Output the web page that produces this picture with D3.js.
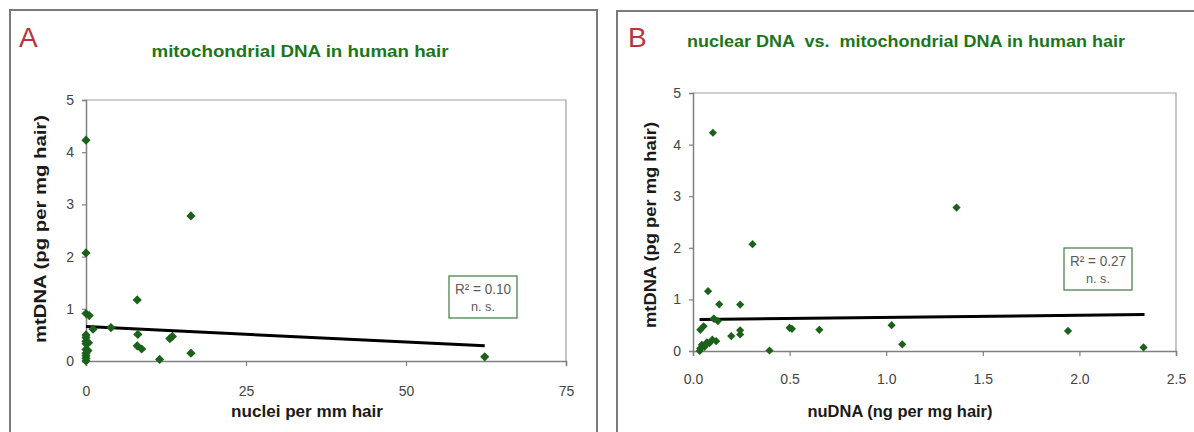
<!DOCTYPE html>
<html>
<head>
<meta charset="utf-8">
<script src="https://cdn.jsdelivr.net/npm/d3@7"></script>
<style>
  html, body { margin: 0; padding: 0; background: #fff; }
  svg { display: block; }
</style>
</head>
<body>
<div id="chart"></div>
<script>
// hair DNA scatter panels (A, B)

// panel A: nuclei per mm hair vs mtDNA
const nucleiA = [0, 0, 16.4, 8, 0, 0.5, 3.9, 1.1, 8.1, 8.0, 8.7, 11.5, 13.1, 13.5, 16.4, 62.3,
  0, 0, 0, 0, 0.4, 0, 0, 0, 0, 0, 0.3];
const mtA = [4.23, 2.07, 2.78, 1.17, 0.91, 0.87, 0.64, 0.61, 0.51, 0.29, 0.23, 0.03, 0.43, 0.47, 0.15, 0.08,
  0.5, 0.45, 0.38, 0.33, 0.35, 0.22, 0.15, 0.1, 0.05, 0.0, 0.2];
const trendA = [[0, 0.66], [62.3, 0.29]];
const xTicksA = [0, 25, 50, 75];

// panel B: nuDNA vs mtDNA
const nuB = [0.103, 1.364, 0.308, 0.078, 0.136, 0.244, 0.107, 0.129, 0.5, 0.512, 0.654, 0.244, 0.244,
  0.198, 0.396, 0.12, 0.1, 0.038, 0.055, 0.072, 0.085, 0.046, 0.038, 0.035, 1.028, 1.083, 1.941, 2.332, 0.06, 0.11];
const mtB = [4.23, 2.78, 2.07, 1.16, 0.905, 0.9, 0.63, 0.58, 0.45, 0.43, 0.41, 0.40, 0.32,
  0.29, 0.01, 0.19, 0.22, 0.41, 0.48, 0.17, 0.15, 0.12, 0.05, 0.0, 0.5, 0.13, 0.39, 0.07, 0.08, 0.62];
const trendB = [[0.034, 0.61], [2.337, 0.705]];
const xTicksB = [0, 0.5, 1, 1.5, 2, 2.5];

const yTicks = [0, 1, 2, 3, 4, 5];

const W = 1194, H = 432;
const GREEN = '#1a621a';
const TITLE_GREEN = '#1b761b';

const svg = d3.select('#chart').append('svg')
  .attr('width', W)
  .attr('height', H)
  .attr('font-family', 'Liberation Sans, Arial, sans-serif');

function drawPanel(cfg) {
  const g = svg.append('g');

  // outer frame
  g.append('rect')
    .attr('x', cfg.frame[0]).attr('y', cfg.frame[1])
    .attr('width', cfg.frame[2]).attr('height', 440)
    .attr('fill', 'none')
    .attr('stroke', '#7a7a7a')
    .attr('stroke-width', 2);

  // panel letter
  g.append('text')
    .text(cfg.letter)
    .attr('x', cfg.letterX).attr('y', 47)
    .attr('fill', '#b8343f')
    .attr('font-size', 28);

  // title
  g.append('text')
    .text(cfg.title)
    .attr('x', cfg.titleX).attr('y', cfg.titleY)
    .attr('text-anchor', 'middle')
    .attr('fill', TITLE_GREEN)
    .attr('font-size', 16.5)
    .attr('font-weight', 'bold')
    .attr('textLength', cfg.titleW)
    .attr('lengthAdjust', 'spacingAndGlyphs')
    .style('white-space', 'pre');

  const x = d3.scaleLinear().domain(cfg.xDomain).range([cfg.left, cfg.right]);
  const y = d3.scaleLinear().domain([0, 5]).range([cfg.bottom, cfg.top]);

  // plot area border (top + right)
  g.append('path')
    .attr('d', `M${cfg.left},${cfg.top}H${cfg.right}V${cfg.bottom}`)
    .attr('fill', 'none')
    .attr('stroke', '#a0a0a0')
    .attr('stroke-width', 1.2);

  // axes
  const xAxis = g.append('g')
    .attr('transform', `translate(0,${cfg.bottom})`)
    .call(d3.axisBottom(x).tickValues(cfg.xTicks).tickFormat(cfg.xFormat)
      .tickSize(5).tickPadding(cfg.xPad));
  const yAxis = g.append('g')
    .attr('transform', `translate(${cfg.left},0)`)
    .call(d3.axisLeft(y).tickValues(yTicks).tickFormat(d3.format('d'))
      .tickSize(4).tickPadding(8));

  [xAxis, yAxis].forEach(a => {
    a.select('.domain').attr('stroke', '#808080').attr('stroke-width', 1.5);
    a.selectAll('.tick line').attr('stroke', '#808080').attr('stroke-width', 1.2);
    a.selectAll('.tick text')
      .attr('fill', '#444')
      .attr('font-size', 14)
      .attr('font-family', 'Liberation Sans Narrow, Liberation Sans, Arial, sans-serif');
  });

  // axis titles
  g.append('text')
    .text(cfg.xLabel)
    .attr('x', cfg.xLabelX).attr('y', 417)
    .attr('text-anchor', 'middle')
    .attr('fill', '#1a1a1a')
    .attr('font-size', 16.5)
    .attr('font-weight', 'bold')
    .attr('textLength', cfg.xLabelW)
    .attr('lengthAdjust', 'spacingAndGlyphs');

  g.append('text')
    .text('mtDNA (pg per mg hair)')
    .attr('transform', `translate(${cfg.yLabelX},${cfg.yLabelY}) rotate(-90)`)
    .attr('text-anchor', 'middle')
    .attr('dy', '0.35em')
    .attr('fill', '#1a1a1a')
    .attr('font-size', 16.5)
    .attr('font-weight', 'bold')
    .attr('textLength', cfg.yLabelW)
    .attr('lengthAdjust', 'spacingAndGlyphs');

  // trend line
  g.append('line')
    .attr('x1', x(cfg.trend[0][0])).attr('y1', y(cfg.trend[0][1]))
    .attr('x2', x(cfg.trend[1][0])).attr('y2', y(cfg.trend[1][1]))
    .attr('stroke', '#000')
    .attr('stroke-width', 3);

  // points
  const pts = cfg.xs.map((v, i) => ({ x: v, y: cfg.ys[i] }));
  const r = cfg.r;
  g.append('g').selectAll('path')
    .data(pts)
    .enter().append('path')
    .attr('d', `M0,${-r}L${r},0L0,${r}L${-r},0Z`)
    .attr('transform', d => `translate(${x(d.x)},${y(d.y)})`)
    .attr('fill', GREEN);

  // R² box
  const b = cfg.box;
  g.append('rect')
    .attr('x', b[0]).attr('y', b[1])
    .attr('width', b[2]).attr('height', b[3])
    .attr('fill', '#fff')
    .attr('stroke', '#3f7a3f')
    .attr('stroke-width', 1.2);
  const bx = b[0] + b[2] / 2;
  g.append('text')
    .attr('x', bx).attr('y', b[1] + 18)
    .attr('text-anchor', 'middle')
    .attr('fill', '#5a5a5a')
    .attr('font-size', 14)
    .attr('textLength', 56)
    .attr('lengthAdjust', 'spacingAndGlyphs')
    .text('R² = ' + cfg.r2);
  g.append('text')
    .attr('x', bx).attr('y', b[1] + 35)
    .attr('text-anchor', 'middle')
    .attr('fill', '#5a5a5a')
    .attr('font-size', 13)
    .attr('textLength', 24)
    .attr('lengthAdjust', 'spacingAndGlyphs')
    .text('n. s.');
}

drawPanel({
  frame: [10, 10, 587],
  letter: 'A', letterX: 19,
  title: 'mitochondrial DNA in human hair', titleX: 300, titleY: 57, titleW: 297,
  left: 86, right: 566, top: 100, bottom: 361,
  xDomain: [0, 75], xTicks: xTicksA, xFormat: d3.format('d'), xPad: 20,
  xLabel: 'nuclei per mm hair', xLabelX: 307, xLabelW: 152,
  yLabelX: 40, yLabelY: 229, yLabelW: 228,
  trend: trendA, xs: nucleiA, ys: mtA, r: 4.6,
  box: [449, 276, 68, 42], r2: '0.10'
});

drawPanel({
  frame: [617, 11, 600],
  letter: 'B', letterX: 628,
  title: 'nuclear DNA  vs.  mitochondrial DNA in human hair', titleX: 906, titleY: 47, titleW: 438,
  left: 693, right: 1176, top: 93, bottom: 351,
  xDomain: [0, 2.5], xTicks: xTicksB, xFormat: d3.format('.1f'), xPad: 18,
  xLabel: 'nuDNA (ng per mg hair)', xLabelX: 900, xLabelW: 185,
  yLabelX: 650, yLabelY: 225, yLabelW: 206,
  trend: trendB, xs: nuB, ys: mtB, r: 4.1,
  box: [1064, 248, 68, 42], r2: '0.27'
});
</script>
</body>
</html>
